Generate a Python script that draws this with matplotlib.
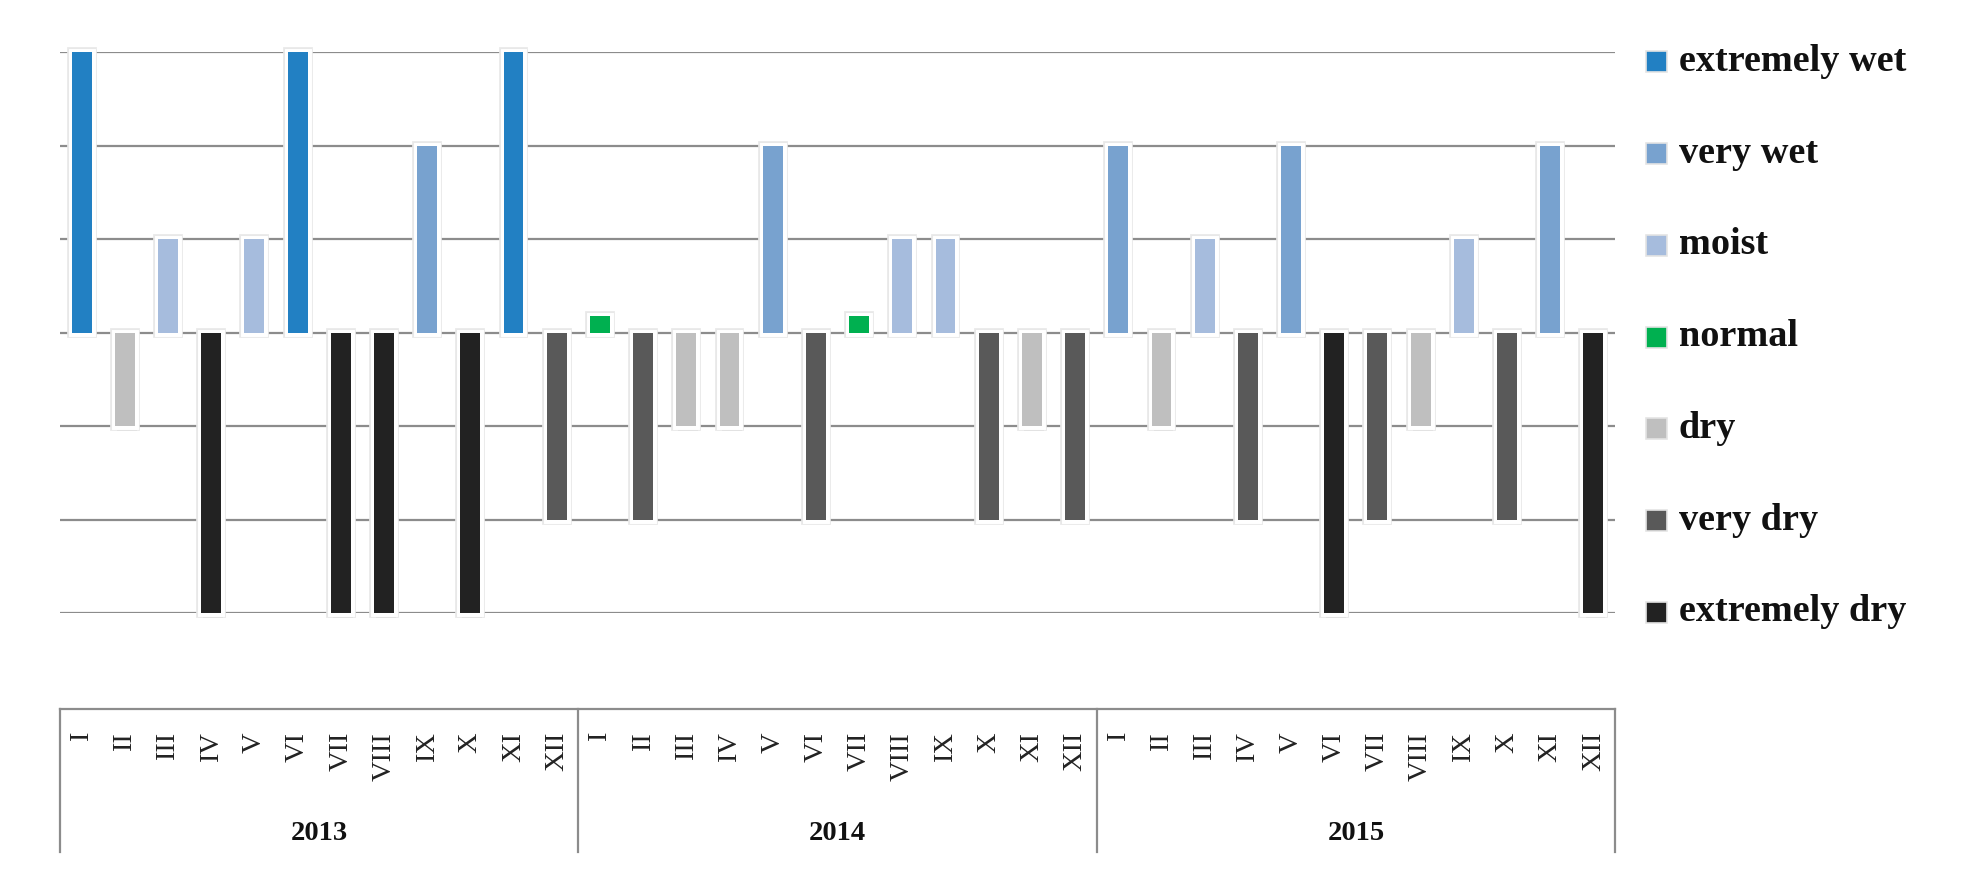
import matplotlib
matplotlib.use("Agg")
import matplotlib.pyplot as plt
import matplotlib.patheffects as pe
from matplotlib.patches import Rectangle
from matplotlib.lines import Line2D
from matplotlib.transforms import blended_transform_factory

# --- data ---
years = ['2013', '2014', '2015']
months = ['I', 'II', 'III', 'IV', 'V', 'VI', 'VII', 'VIII', 'IX', 'X', 'XI', 'XII']

classes = ['extremely wet', 'very wet', 'moist', 'normal', 'dry', 'very dry', 'extremely dry']
class_levels = [3, 2, 1, 0.18, -1, -2, -3]
class_colors = ['#2280C3', '#78A2CF', '#A6BCDD', '#00B050', '#BFBFBF', '#595959', '#222222']

values_2013 = [3, -1, 1, -3, 1, 3, -3, -3, 2, -3, 3, -2]
values_2014 = [0.18, -2, -1, -1, 2, -2, 0.18, 1, 1, -2, -1, -2]
values_2015 = [2, -1, 1, -2, 2, -3, -2, -1, 1, -2, 2, -3]

values = values_2013 + values_2014 + values_2015
color_of = dict(zip(class_levels, class_colors))
bar_colors = [color_of[v] for v in values]
x = list(range(len(values)))

plt.rcParams['font.family'] = ['Liberation Serif', 'DejaVu Serif']

W, H = 1971, 880
fig = plt.figure(figsize=(W / 100, H / 100), dpi=100)
ax = fig.add_axes([60 / W, 1 - 613 / H, (1615 - 60) / W, (613 - 52) / H])

# gridlines
for g in [3, 2, 1, 0, -1, -2, -3]:
    ax.axhline(g, color='#8c8c8c', lw=1.6, zorder=1,
               path_effects=[pe.SimplePatchShadow(offset=(0, -1), shadow_rgbFace='#cccccc', alpha=0.6), pe.Normal()])

bar_fx = [pe.SimplePatchShadow(offset=(1.5, -3.5), shadow_rgbFace='#8a8a8a', alpha=0.5),
          pe.Stroke(linewidth=7, foreground='#e8e8e8'),
          pe.Stroke(linewidth=5, foreground='white'),
          pe.Normal()]
bars = ax.bar(x, values, width=0.46, color=bar_colors, linewidth=0, zorder=2)
for b in bars:
    b.set_path_effects(bar_fx)
    b.set_clip_on(False)

ax.set_xlim(-0.5, len(values) - 0.5)
ax.set_ylim(-3, 3)
ax.axis('off')

# category table under the chart
tr = blended_transform_factory(ax.transData, fig.transFigure)
y_top = 1 - 709 / H
y_bot = 1 - 852 / H
line_kw = dict(color='#8c8c8c', lw=1.6, transform=tr, clip_on=False)
ax.add_line(Line2D([-0.5, len(values) - 0.5], [y_top, y_top], **line_kw))
for k in range(len(years) + 1):
    xv = -0.5 + 12 * k
    ax.add_line(Line2D([xv, xv], [y_top, y_bot], **line_kw))

for i in x:
    ax.text(i, 1 - 732 / H, months[i % 12], rotation=90, ha='center', va='top',
            fontsize=20.5, color='#222222', transform=tr)
for k, yr in enumerate(years):
    ax.text(5.5 + 12 * k, 1 - 833 / H, yr, ha='center', va='center',
            fontsize=20.5, fontweight='bold', color='#111111', transform=tr)

# legend
for k, (lab, col) in enumerate(zip(classes, class_colors)):
    yc = 62 + 91.7 * k
    fig.add_artist(Rectangle((1646 / W, 1 - (yc + 10.5) / H), 21 / W, 21 / H,
                             facecolor=col, edgecolor='#e4e4e4', lw=1.2,
                             transform=fig.transFigure))
    fig.text(1679 / W, 1 - (yc + 9) / H, lab, ha='left', va='baseline',
             fontsize=27.5, fontweight='bold', color='#111111')

fig.savefig('out.png', dpi=100, facecolor='white')
